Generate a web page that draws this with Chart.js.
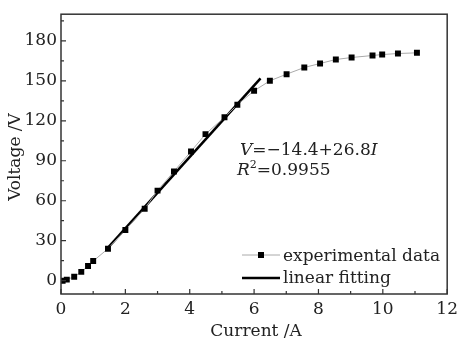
<!DOCTYPE html>
<html lang="en">
<head>
    <meta charset="UTF-8">
    <title>Voltage vs Current</title>
    <script src="https://cdn.jsdelivr.net/npm/chart.js"></script>
    <style>
        html, body {
            margin: 0;
            padding: 0;
            background: #fff;
        }
        .chart-box {
            width: 463px;
            height: 340px;
            position: relative;
        }
    </style>
</head>
<body>
    <div class="chart-box">
        <canvas id="ivChart"></canvas>
    </div>

    <script>
        // Measured points (current in A, voltage in V)
        const currentA = [0.05, 0.18, 0.41, 0.63, 0.84, 1.0, 1.46, 2.0, 2.6, 3.0, 3.51, 4.04, 4.49,
                          5.08, 5.48, 6.0, 6.49, 7.01, 7.56, 8.05, 8.54, 9.03, 9.68, 9.98, 10.47, 11.06];
        const voltageV = [0, 0.8, 3, 6.6, 11, 14.7, 24, 38, 54, 67.6, 82, 97, 110,
                          122.7, 132, 142.5, 150, 155, 160, 163, 166, 167.5, 169, 169.7, 170.5, 171];

        // Linear fit V = -14.4 + 26.8 I, drawn between these end points
        const fitCurrent = [1.4, 6.2];
        const fitVoltage = [23.1, 151.8];

        const xTickValues = [0, 2, 4, 6, 8, 10, 12];
        const yTickValues = [0, 30, 60, 90, 120, 150, 180];
        const xMinorValues = [1, 3, 5, 7, 9, 11];
        const yMinorValues = [15, 45, 75, 105, 135, 165, 195];

        const serif = "'DejaVu Serif', 'Liberation Serif', serif";
        const ink = '#222';

        // frame, inward ticks, axis titles, equation and legend
        const decorPlugin = {
            id: 'decor',
            afterDraw(chart) {
                const ctx = chart.ctx;
                const area = chart.chartArea;
                const xs = chart.scales.x;
                const ys = chart.scales.y;
                ctx.save();

                ctx.strokeStyle = '#333';
                ctx.lineWidth = 1.5;
                ctx.strokeRect(area.left, area.top, area.right - area.left, area.bottom - area.top);

                ctx.lineWidth = 1.2;
                ctx.beginPath();
                xTickValues.concat(xMinorValues).forEach(v => {
                    const len = xTickValues.includes(v) ? 5 : 3;
                    const px = xs.getPixelForValue(v);
                    ctx.moveTo(px, area.bottom);
                    ctx.lineTo(px, area.bottom - len);
                });
                yTickValues.concat(yMinorValues).forEach(v => {
                    const len = yTickValues.includes(v) ? 5 : 3;
                    const py = ys.getPixelForValue(v);
                    ctx.moveTo(area.left, py);
                    ctx.lineTo(area.left + len, py);
                });
                ctx.stroke();

                ctx.fillStyle = ink;
                ctx.textBaseline = 'alphabetic';

                // axis titles
                ctx.font = '17px ' + serif;
                ctx.textAlign = 'center';
                ctx.fillText('Current /A', (area.left + area.right) / 2 + 2, 336);
                ctx.save();
                ctx.translate(20, 157);
                ctx.rotate(-Math.PI / 2);
                ctx.fillText('Voltage /V', 0, 0);
                ctx.restore();

                // fit equation
                ctx.textAlign = 'left';
                const drawParts = (parts, x, y) => {
                    parts.forEach(p => {
                        ctx.font = p.font;
                        ctx.fillText(p.text, x, y + (p.dy || 0));
                        x += ctx.measureText(p.text).width;
                    });
                };
                const upright = '17px ' + serif;
                const italic = 'italic 17px ' + serif;
                drawParts([
                    { text: 'V', font: italic },
                    { text: '=−14.4+26.8', font: upright },
                    { text: 'I', font: italic }
                ], 240, 155);
                drawParts([
                    { text: 'R', font: italic },
                    { text: '2', font: '11px ' + serif, dy: -7 },
                    { text: '=0.9955', font: upright }
                ], 237, 175);

                // legend
                ctx.strokeStyle = '#aaa';
                ctx.lineWidth = 1;
                ctx.beginPath();
                ctx.moveTo(242, 255);
                ctx.lineTo(280, 255);
                ctx.stroke();
                ctx.fillStyle = '#000';
                ctx.fillRect(258, 252, 6, 6);
                ctx.strokeStyle = '#000';
                ctx.lineWidth = 2.5;
                ctx.beginPath();
                ctx.moveTo(242, 278);
                ctx.lineTo(280, 278);
                ctx.stroke();
                ctx.fillStyle = ink;
                ctx.font = upright;
                ctx.fillText('experimental data', 283, 261);
                ctx.fillText('linear fitting', 283, 283);

                ctx.restore();
            }
        };

        const ctx = document.getElementById('ivChart').getContext('2d');
        const ivChart = new Chart(ctx, {
            type: 'scatter',
            data: {
                datasets: [{
                    label: 'experimental data',
                    data: currentA.map((c, i) => ({ x: c, y: voltageV[i] })),
                    showLine: true,
                    borderColor: '#aaa',
                    borderWidth: 1,
                    pointStyle: 'rect',
                    pointRadius: 4.2,
                    pointBackgroundColor: '#000',
                    pointBorderWidth: 0,
                    order: 1
                }, {
                    label: 'linear fitting',
                    data: fitCurrent.map((c, i) => ({ x: c, y: fitVoltage[i] })),
                    showLine: true,
                    borderColor: '#000',
                    borderWidth: 2.5,
                    pointRadius: 0,
                    order: 2
                }]
            },
            options: {
                responsive: true,
                maintainAspectRatio: false,
                animation: false,
                layout: {
                    padding: { top: 8, right: 10, left: 0, bottom: 0 }
                },
                plugins: {
                    legend: { display: false },
                    tooltip: { enabled: false }
                },
                scales: {
                    x: {
                        type: 'linear',
                        min: 0,
                        max: 12,
                        grid: { display: false, drawTicks: false },
                        border: { display: false },
                        ticks: {
                            padding: 5,
                            color: ink,
                            font: { family: serif, size: 17 }
                        },
                        afterBuildTicks: scale => {
                            scale.ticks = xTickValues.map(v => ({ value: v }));
                        },
                        afterFit: scale => { scale.height = 46; }
                    },
                    y: {
                        type: 'linear',
                        min: -10,
                        max: 200,
                        grid: { display: false, drawTicks: false },
                        border: { display: false },
                        ticks: {
                            padding: 4,
                            color: ink,
                            font: { family: serif, size: 17 }
                        },
                        afterBuildTicks: scale => {
                            scale.ticks = yTickValues.map(v => ({ value: v }));
                        },
                        afterFit: scale => { scale.width = 61; }
                    }
                }
            },
            plugins: [decorPlugin]
        });
    </script>
</body>
</html>
